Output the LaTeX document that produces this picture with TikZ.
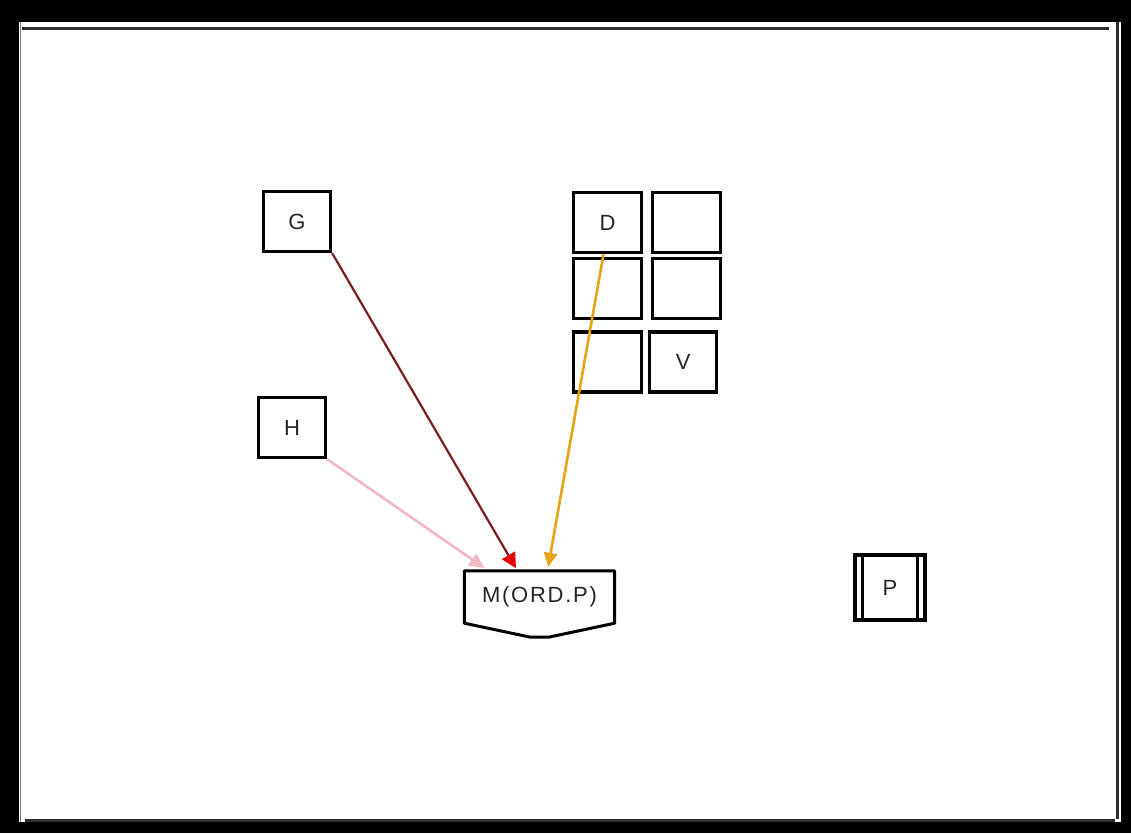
\documentclass[tikz,border=0pt]{standalone}
\usepackage{fontspec}
\setsansfont{Liberation Sans}
\usepackage{tikz}
\usetikzlibrary{arrows.meta, positioning, calc}
\tikzset{every node/.style={font=\sffamily\fontsize{22}{26}\selectfont}}
\definecolor{framegray}{HTML}{2E2E2E}
\definecolor{linkmaroon}{HTML}{7A1F1F}
\definecolor{tipred}{HTML}{E00000}
\definecolor{linkpink}{HTML}{F2B8C6}
\definecolor{linkorange}{HTML}{E8A317}

\begin{document}
\begin{tikzpicture}[
        x=1pt, y=-1pt,
        cellbox/.style={draw, line width=3.3pt, minimum width=67pt, minimum height=60pt, inner sep=0pt, text=black!85},
        node distance=8pt,
      ]
        \useasboundingbox (0,0) rectangle (1131,833);
        % frame
        \fill[black] (0,0) rectangle (1131,833);
        \fill[white] (19,22) rectangle (1121,822);
        \draw[gray, line width=1pt] (20,22) -- (20,822);
        \draw[framegray, line width=3pt] (22,28) -- (1109,28);
        \draw[framegray, line width=3pt] (1117.5,22) -- (1117.5,819);
        \draw[framegray, line width=3pt] (25,820.5) -- (1115,820.5);
        % single boxes
        \node[cellbox] (g) at (297,221.5) {G};
        \node[cellbox] (h) at (292,427.5) {H};
        % grid
        \node[cellbox, minimum width=68pt] (d) at (607.5,222.5) {D};
        \node[cellbox, minimum width=68pt, right=of d] (d2) {};
        \node[cellbox, minimum width=68pt, below=3pt of d] (c1) {};
        \node[cellbox, minimum width=68pt, below=3pt of d2] (c2) {};
        \node[cellbox, minimum width=68pt, below=10pt of c1] (c3) {};
        \node[cellbox, right=5pt of c3] (v) {V};
        % merge node
        \node[minimum width=150pt, minimum height=52pt, inner sep=0pt, text=black!85] (m) at (539.5,597) {\addfontfeature{LetterSpace=8}M(ORD.P)};
        \draw[line width=3pt, line join=round] (m.north west) -- (m.north east) -- (m.south east)
          -- ($(m.south)+(9,14)$) -- ($(m.south)+(-9,14)$) -- (m.south west) -- cycle;
        % P
        \node[cellbox, minimum width=70pt, minimum height=65pt] (p) at (890,587.5) {P};
        \draw[line width=2.6pt] ($(p.north west)+(9,0)$) -- ($(p.south west)+(9,0)$);
        \draw[line width=2.6pt] ($(p.north east)+(-9,0)$) -- ($(p.south east)+(-9,0)$);
        % links
        \draw[linkmaroon, line width=2.2pt, -{Triangle[length=15pt, width=15pt, color=tipred]}, shorten >=3pt] (g.south east) -- ([xshift=-22pt]m.north);
        \draw[linkpink, line width=2.6pt, -{Triangle[length=15pt, width=14pt]}, shorten >=5pt] (h.south east) -- ([xshift=-51pt]m.north);
        \draw[linkorange, line width=2.6pt, -{Triangle[length=14pt, width=13pt]}, shorten >=4pt] ([xshift=-4pt]d.south) -- ([xshift=8pt]m.north);
      \end{tikzpicture}
\end{document}
